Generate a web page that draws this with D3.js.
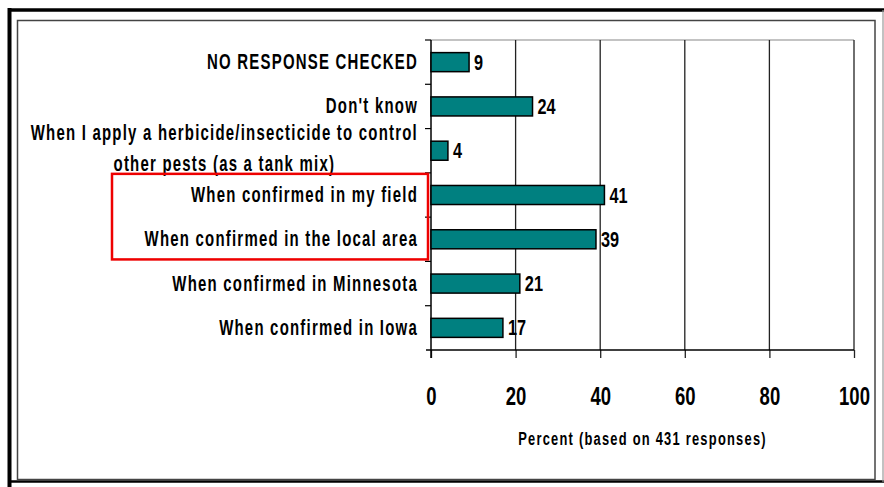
<!DOCTYPE html>
<html>
<head>
<meta charset="utf-8">
<script src="https://cdn.jsdelivr.net/npm/d3@7"></script>
<style>
  html, body { margin: 0; padding: 0; background: #fff; }
  svg { display: block; }
  text { font-family: "Liberation Sans", Arial, sans-serif; font-weight: bold; fill: #000; }
</style>
</head>
<body>
<svg id="chart" width="884" height="487"></svg>
<script>
const categories = [
  "NO RESPONSE CHECKED",
  "Don't know",
  "When I apply a herbicide/insecticide to control other pests (as a tank mix)",
  "When confirmed in my field",
  "When confirmed in the local area",
  "When confirmed in Minnesota",
  "When confirmed in Iowa"
];
const values = [9, 24, 4, 41, 39, 21, 17];
const xTicks = [0, 20, 40, 60, 80, 100];
const highlighted = ["When confirmed in my field", "When confirmed in the local area"];
const axisTitle = "Percent (based on 431 responses)";

const svg = d3.select("#chart");
const SX = 0.74;   // horizontal compression for digits
const SXL = 0.68;  // horizontal compression for labels
const LS = "1.8px";
const plot = { left: 431, right: 854, top: 40, bottom: 350 };

const x = d3.scaleLinear().domain([0, 100]).range([plot.left, plot.right]);
const y = d3.scaleBand().domain(categories).range([plot.top, plot.bottom])
  .paddingInner(0.57).paddingOuter(0.285);
const step = y.step();

// Frames
svg.append("line").attr("x1", 9.5).attr("x2", 9.5).attr("y1", 8).attr("y2", 487)
  .attr("stroke", "#000").attr("stroke-width", 4);
svg.append("line").attr("x1", 8).attr("x2", 884).attr("y1", 10).attr("y2", 10)
  .attr("stroke", "#000").attr("stroke-width", 3.5);
svg.append("line").attr("x1", 8).attr("x2", 884).attr("y1", 481.5).attr("y2", 481.5)
  .attr("stroke", "#000").attr("stroke-width", 2.5);
svg.append("line").attr("x1", 883).attr("x2", 883).attr("y1", 10).attr("y2", 482)
  .attr("stroke", "#999").attr("stroke-width", 1.2);
svg.append("rect").attr("x", 17.5).attr("y", 20.5).attr("width", 875 - 17.5).attr("height", 479.5 - 20.5)
  .attr("fill", "none").attr("stroke", "#444").attr("stroke-width", 1.5);

// Plot top border
svg.append("line").attr("x1", plot.left).attr("x2", plot.right).attr("y1", plot.top).attr("y2", plot.top)
  .attr("stroke", "#888").attr("stroke-width", 1.2);

// Vertical gridlines
svg.append("g").selectAll("line").data(xTicks.filter(d => d > 0)).join("line")
  .attr("x1", d => x(d)).attr("x2", d => x(d))
  .attr("y1", plot.top).attr("y2", plot.bottom)
  .attr("stroke", "#222").attr("stroke-width", 1.3);

// Bottom axis
const xAxis = d3.axisBottom(x).tickValues(xTicks).tickSize(8).tickPadding(29).tickSizeOuter(0);
const gx = svg.append("g").attr("transform", `translate(0,${plot.bottom})`).call(xAxis);
gx.select(".domain").remove();
gx.append("line").attr("x1", plot.left - 5).attr("x2", plot.right).attr("y1", 0).attr("y2", 0)
  .attr("stroke", "#000").attr("stroke-width", 1.5);
gx.selectAll(".tick line").attr("stroke", "#222").attr("stroke-width", 1.3);
gx.selectAll(".tick text")
  .attr("transform", `scale(${SX},1)`)
  .style("font-size", "25px").style("font-family", "'Liberation Sans', Arial, sans-serif")
  .style("font-weight", "bold").attr("fill", "#000");

// Left axis line and ticks between categories
svg.append("line").attr("x1", plot.left).attr("x2", plot.left).attr("y1", plot.top).attr("y2", plot.bottom + 8)
  .attr("stroke", "#000").attr("stroke-width", 1.5);
const boundaries = d3.range(categories.length).map(i => plot.top + i * step);
svg.append("g").selectAll("line").data(boundaries).join("line")
  .attr("x1", plot.left - 6).attr("x2", plot.left)
  .attr("y1", d => d).attr("y2", d => d)
  .attr("stroke", "#000").attr("stroke-width", 1.2);

// Bars
svg.append("g").selectAll("rect").data(categories).join("rect")
  .attr("x", x(0))
  .attr("y", d => y(d))
  .attr("width", (d, i) => x(values[i]) - x(0))
  .attr("height", y.bandwidth())
  .attr("fill", "#008080")
  .attr("stroke", "#000").attr("stroke-width", 1.5);

// Value labels
svg.append("g").selectAll("g").data(categories).join("g")
  .attr("transform", (d, i) => `translate(${x(values[i]) + 5},${y(d) + y.bandwidth() / 2 + 7.5}) scale(${SX},1)`)
  .append("text")
  .style("font-size", "22px")
  .text((d, i) => values[i]);

// Category labels (wrapped, centred lines, right-aligned block)
const labelRight = plot.left - 13;
const maxW = 600;
categories.forEach(cat => {
  const cy = y(cat) + y.bandwidth() / 2;
  const g = svg.append("g").attr("transform", `translate(${labelRight},0) scale(${SXL},1)`);
  const words = cat.split(" ");
  const probe = g.append("text").style("font-size", "22px").style("letter-spacing", LS);
  const lines = [];
  let cur = [];
  words.forEach(w => {
    const test = cur.concat([w]).join(" ");
    probe.text(test);
    if (probe.node().getComputedTextLength() > maxW && cur.length) {
      lines.push(cur.join(" "));
      cur = [w];
    } else cur.push(w);
  });
  lines.push(cur.join(" "));
  probe.remove();
  if (lines.length === 1) {
    g.append("text").attr("x", 0).attr("y", cy + 7).attr("text-anchor", "end")
      .style("font-size", "22px").style("letter-spacing", LS).text(lines[0]);
  } else {
    const first = g.append("text").attr("x", 0).attr("y", cy - 10.5).attr("text-anchor", "end")
      .style("font-size", "22px").style("letter-spacing", LS).text(lines[0]);
    const w1 = first.node().getComputedTextLength();
    lines.slice(1).forEach((ln, k) => {
      g.append("text").attr("x", -w1 / 2).attr("y", cy - 10.5 + 31 * (k + 1)).attr("text-anchor", "middle")
        .style("font-size", "22px").style("letter-spacing", LS).text(ln);
    });
  }
});

// Highlight box around selected categories
const hTop = d3.min(highlighted, c => y(c)) - (step - y.bandwidth()) / 2 + 1;
const hBot = d3.max(highlighted, c => y(c) + y.bandwidth()) + (step - y.bandwidth()) / 2 - 2;
svg.append("rect").attr("x", 112).attr("y", hTop).attr("width", plot.left - 3 - 112).attr("height", hBot - hTop)
  .attr("fill", "none").attr("stroke", "#ee0000").attr("stroke-width", 2.5);

// Axis title
svg.append("g").attr("transform", `translate(${(plot.left + plot.right) / 2},445) scale(${SXL},1)`)
  .append("text").attr("text-anchor", "middle").style("font-size", "19px").style("letter-spacing", LS)
  .text(axisTitle);
</script>
</body>
</html>
